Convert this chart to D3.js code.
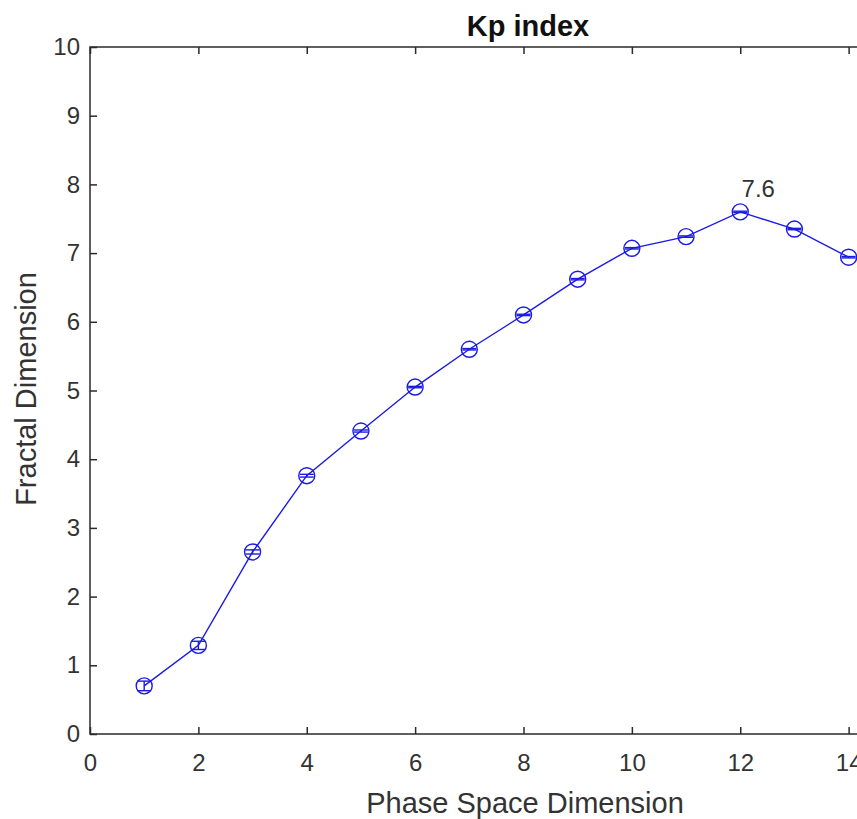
<!DOCTYPE html>
<html>
<head>
<meta charset="utf-8">
<script src="https://cdn.jsdelivr.net/npm/d3@7"></script>
<style>
  body { margin: 0; background: #fff; }
  svg { display: block; font-family: "Liberation Sans", Arial, sans-serif; }
</style>
</head>
<body>
<svg width="857" height="819"></svg>
<script>
// embedding dimension vs fractal dimension, Kp index
var dims = [1, 2, 3, 4, 5, 6, 7, 8, 9, 10, 11, 12, 13, 14];
var fracDim = [0.70, 1.29, 2.65, 3.76, 4.41, 5.05, 5.60, 6.10, 6.62, 7.07, 7.24, 7.60, 7.35, 6.94];
var errs = [0.07, 0.06, 0.03, 0.02, 0.015, 0.01, 0.01, 0.01, 0.01, 0.01, 0.01, 0.01, 0.01, 0.01];
var xTicks = [0, 2, 4, 6, 8, 10, 12, 14, 16];
var yTicks = [0, 1, 2, 3, 4, 5, 6, 7, 8, 9, 10];
var peakLabel = "7.6";

var svg = d3.select("svg"),
    margin = { top: 47, left: 90 },
    plotW = 867,
    plotH = 687;

var axisCol = "#333";

var x = d3.scaleLinear().domain([0, 16]).range([margin.left, margin.left + plotW]),
    y = d3.scaleLinear().domain([0, 10]).range([margin.top + plotH, margin.top]);

var g = svg.append("g");

// box
g.append("rect")
    .attr("x", x(0)).attr("y", y(10))
    .attr("width", plotW).attr("height", plotH)
    .attr("fill", "none").attr("stroke", "#2a2a2a").attr("stroke-width", 1.5);

// bottom axis, ticks inward
var xAxis = g.append("g")
    .attr("transform", "translate(0," + y(0) + ")")
    .call(d3.axisBottom(x).tickValues(xTicks).tickSizeInner(-7).tickSizeOuter(0).tickPadding(20));
xAxis.select(".domain").remove();

var xTop = g.append("g")
    .attr("transform", "translate(0," + y(10) + ")")
    .call(d3.axisTop(x).tickValues(xTicks).tickSizeInner(-7).tickSizeOuter(0).tickFormat(""));
xTop.select(".domain").remove();

var yAxis = g.append("g")
    .attr("transform", "translate(" + x(0) + ",0)")
    .call(d3.axisLeft(y).tickValues(yTicks).tickSizeInner(-7).tickSizeOuter(0).tickPadding(10));
yAxis.select(".domain").remove();

g.selectAll(".tick line").attr("stroke", "#2a2a2a").attr("stroke-width", 1.5);
g.selectAll(".tick text")
    .attr("fill", axisCol)
    .style("font-size", "24px");

// title and labels
svg.append("text")
    .attr("x", 528).attr("y", 36)
    .attr("text-anchor", "middle")
    .style("font-size", "29px").style("font-weight", "bold")
    .attr("fill", "#111")
    .text("Kp index");

svg.append("text")
    .attr("x", 525).attr("y", 813)
    .attr("text-anchor", "middle")
    .style("font-size", "29px")
    .attr("fill", axisCol)
    .text("Phase Space Dimension");

svg.append("text")
    .attr("transform", "translate(36,389)rotate(-90)")
    .attr("text-anchor", "middle")
    .style("font-size", "29px")
    .attr("fill", axisCol)
    .text("Fractal Dimension");

var data = dims.map(function (d, i) {
    return { x: d, y: fracDim[i], e: errs[i] };
});

var line = d3.line()
    .x(function (d) { return x(d.x); })
    .y(function (d) { return y(d.y); });

var blue = "#1a1ae6";

g.append("path")
    .datum(data)
    .attr("d", line)
    .attr("fill", "none")
    .attr("stroke", blue)
    .attr("stroke-width", 1.4);

// error bars
var eb = g.selectAll(".eb")
    .data(data)
    .enter().append("g")
    .attr("class", "eb")
    .attr("stroke", blue)
    .attr("stroke-width", 1.4)
    .attr("fill", "none");

eb.append("line")
    .attr("x1", function (d) { return x(d.x); })
    .attr("x2", function (d) { return x(d.x); })
    .attr("y1", function (d) { return y(d.y - d.e); })
    .attr("y2", function (d) { return y(d.y + d.e); });

eb.append("line")
    .attr("x1", function (d) { return x(d.x) - 7; })
    .attr("x2", function (d) { return x(d.x) + 7; })
    .attr("y1", function (d) { return y(d.y - d.e); })
    .attr("y2", function (d) { return y(d.y - d.e); });

eb.append("line")
    .attr("x1", function (d) { return x(d.x) - 7; })
    .attr("x2", function (d) { return x(d.x) + 7; })
    .attr("y1", function (d) { return y(d.y + d.e); })
    .attr("y2", function (d) { return y(d.y + d.e); });

eb.append("circle")
    .attr("cx", function (d) { return x(d.x); })
    .attr("cy", function (d) { return y(d.y); })
    .attr("r", 8);

// peak annotation
var peak = data[d3.maxIndex(data, function (d) { return d.y; })];
svg.append("text")
    .attr("x", x(peak.x) + 18)
    .attr("y", y(peak.y) - 15)
    .attr("text-anchor", "middle")
    .style("font-size", "24px")
    .attr("fill", axisCol)
    .text(peakLabel);
</script>
</body>
</html>
